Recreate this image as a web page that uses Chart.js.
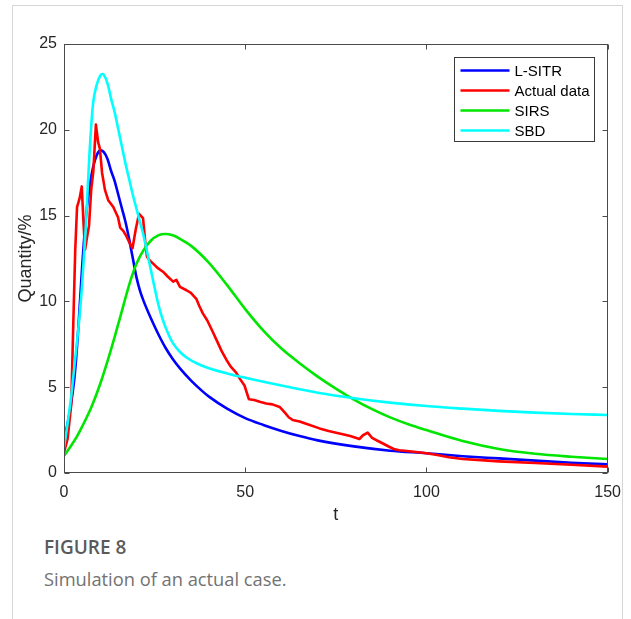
<!DOCTYPE html>
<html><head><meta charset="utf-8">
<script src="https://cdn.jsdelivr.net/npm/chart.js@4"></script>
<style>
html,body{margin:0;padding:0;background:#fff;overflow:hidden;width:631px;height:619px;}
#frame{position:absolute;left:12px;top:5px;width:609px;height:700px;border:1px solid #d6d6d6;border-bottom:none;}
#wrap{position:absolute;left:0;top:0;width:631px;height:530px;}
#cap1{position:absolute;left:44px;top:534px;font-family:"Open Sans",sans-serif;font-weight:600;font-size:19px;color:#5a5a5a;white-space:nowrap;}
#cap2{position:absolute;left:44px;top:566px;font-family:"Open Sans",sans-serif;font-weight:400;font-size:18.3px;color:#727272;white-space:nowrap;}
</style></head>
<body>
<div id="frame"></div>
<div id="wrap"><canvas id="c"></canvas></div>
<div id="cap1">FIGURE 8</div>
<div id="cap2">Simulation of an actual case.</div>
<script>
// ---- data ----
const xTicks = [0, 50, 100, 150];
const yTicks = [0, 5, 10, 15, 20, 25];

const tLSITR = [0,1,2,3,4,5,6,7,8,9,10,11,12,13,14,15,16,17,18,19,20,21,22,24,26,28,30,32,35,38,40,45,50,55,60,65,70,80,90,100,110,120,130,140,150];
const vLSITR = [2.0,2.9,4.1,5.8,8.6,12.0,14.8,16.6,17.8,18.5,18.8,18.7,18.3,17.6,17.0,16.2,15.4,14.6,13.6,12.5,11.4,10.6,10.0,9.0,8.1,7.3,6.65,6.1,5.4,4.8,4.45,3.75,3.2,2.8,2.45,2.15,1.9,1.55,1.3,1.15,0.98,0.85,0.72,0.6,0.5];

const tActual = [0,1,2,2.6,3.1,3.6,4.3,4.9,5.4,5.8,6.4,6.9,7.5,8.1,8.8,9.4,9.9,10.5,11.3,12.2,13.6,14.9,15.5,16.4,17.2,18.1,18.9,19.8,20.7,21.8,22.4,22.9,23.6,24.6,25.8,27.3,28.6,30.1,31,32,33.8,35,36.5,37.3,38.3,39.5,41.1,42.2,43.5,44.8,46,47.5,48.5,49.8,51,52.5,54,55.8,57.5,59.5,61,62,63.1,65,67,70.5,73,76,79,81.5,82.5,83.8,85,86.5,88,89.7,91,92.5,96,100,103,106.2,110,115,120,130,140,150];
const vActual = [1.2,2.0,4.0,9.0,13.0,15.5,16.0,16.7,14.5,13.0,13.8,14.4,16.5,17.6,20.3,19.3,18.9,17.5,16.5,15.9,15.5,14.9,14.3,14.1,13.8,13.4,13.1,14.2,15.1,14.85,13.5,12.6,12.4,12.2,11.95,11.73,11.45,11.15,11.25,10.85,10.65,10.5,10.15,9.75,9.3,8.9,8.2,7.7,7.1,6.6,6.2,5.85,5.5,5.1,4.3,4.25,4.15,4.05,4.0,3.85,3.5,3.25,3.09,3.0,2.85,2.6,2.45,2.3,2.15,1.98,2.2,2.35,2.05,1.88,1.72,1.53,1.4,1.33,1.25,1.15,1.05,0.92,0.82,0.75,0.68,0.58,0.48,0.37];

const tSIRS = [0,2,3.5,5,7.6,10,12.7,15,18.4,20,22,24,26,28,30,32,35,40,45,50,55,60,65,70,75,80,85,90,95,100,110,120,130,140,150];
const vSIRS = [1.0,1.6,2.1,2.7,3.86,5.2,7.0,8.7,11.25,12.2,13.0,13.55,13.85,13.93,13.85,13.65,13.25,12.25,10.95,9.55,8.3,7.25,6.4,5.62,4.92,4.28,3.72,3.24,2.84,2.5,1.86,1.4,1.12,0.95,0.82];

const tSBD = [0,1,2,3,4,5,6,7,8,9,10,10.6,11,12,13,14,15,16,17,18,19,20,21,22,23,24,25,26,27,28,29,30,32,34,37,40,45,50,55,60,65,70,80,90,100,110,120,130,140,150];
const vSBD = [1.5,2.9,4.5,6.5,8.5,11.0,14.3,18.5,21.5,22.6,23.15,23.25,23.2,22.7,21.8,21.0,20.0,19.0,18.0,17.1,16.2,15.4,14.6,13.8,12.8,11.8,10.8,9.85,9.1,8.5,8.0,7.58,7.05,6.7,6.35,6.1,5.8,5.55,5.32,5.1,4.88,4.68,4.36,4.1,3.9,3.75,3.62,3.52,3.44,3.38];

const seriesNames = ['L-SITR', 'Actual data', 'SIRS', 'SBD'];
const seriesColors = ['#0000ff', '#ff0000', '#00e600', '#00ffff'];

// ---- build ----
const toPts = (t, v) => t.map((x, i) => ({x: x, y: v[i]}));
const FONT = '"Liberation Sans", Arial, sans-serif';
const AXIS = '#4a4a4a';

const boxPlugin = {
  id: 'box',
  afterDatasetsDraw(chart) {
    const {ctx, chartArea: a, scales: {x, y}} = chart;
    ctx.save();
    ctx.strokeStyle = AXIS;
    ctx.lineWidth = 1;
    const L = Math.round(a.left) + 0.5, R = Math.round(a.right) - 0.5;
    const T = Math.round(a.top) + 0.5, B = Math.round(a.bottom) - 0.5;
    ctx.strokeRect(L, T, R - L, B - T);
    const tl = 5;
    ctx.beginPath();
    xTicks.forEach(v => {
      const px = Math.round(x.getPixelForValue(v)) + 0.5;
      ctx.moveTo(px, B); ctx.lineTo(px, B - tl);
      ctx.moveTo(px, T); ctx.lineTo(px, T + tl);
    });
    yTicks.forEach(v => {
      const py = Math.round(y.getPixelForValue(v)) + 0.5;
      ctx.moveTo(L, py); ctx.lineTo(L + tl, py);
      ctx.moveTo(R, py); ctx.lineTo(R - tl, py);
    });
    ctx.stroke();
    // legend
    const bw = 140, bh = 84;
    const bx = Math.round(a.right - 14 - bw) + 0.5, by = Math.round(a.top + 13) + 0.5;
    ctx.fillStyle = '#fff';
    ctx.fillRect(bx, by, bw, bh);
    ctx.strokeStyle = '#3a3a3a';
    ctx.strokeRect(bx, by, bw, bh);
    ctx.font = '15px ' + FONT;
    ctx.textBaseline = 'middle';
    ctx.textAlign = 'left';
    chart.data.datasets.forEach((ds, i) => {
      const ry = by + 13 + i * 20;
      ctx.strokeStyle = ds.borderColor;
      ctx.lineWidth = 2.5;
      ctx.beginPath();
      ctx.moveTo(bx + 6, ry); ctx.lineTo(bx + 55, ry);
      ctx.stroke();
      ctx.fillStyle = '#000';
      ctx.fillText(ds.label, bx + 60, ry + 1);
    });
    ctx.restore();
  }
};

const datasets = [
  {data: toPts(tLSITR, vLSITR), order: 3, cubicInterpolationMode: 'monotone'},
  {data: toPts(tActual, vActual), order: 2, tension: 0},
  {data: toPts(tSIRS, vSIRS), order: 1, cubicInterpolationMode: 'monotone'},
  {data: toPts(tSBD, vSBD), order: 0, cubicInterpolationMode: 'monotone'}
].map((d, i) => Object.assign(d, {
  label: seriesNames[i], borderColor: seriesColors[i], backgroundColor: seriesColors[i],
  borderWidth: 2.6, pointRadius: 0, fill: false, borderJoinStyle: 'round', borderCapStyle: 'round'
}));

new Chart(document.getElementById('c'), {
  type: 'line',
  data: {datasets},
  plugins: [boxPlugin],
  options: {
    responsive: true, maintainAspectRatio: false, animation: false,
    layout: {padding: {left: 0, top: 44, right: 22, bottom: 0}},
    plugins: {legend: {display: false}, tooltip: {enabled: false}},
    scales: {
      x: {
        type: 'linear', min: 0, max: 150,
        afterBuildTicks: s => { s.ticks = xTicks.map(v => ({value: v})); },
        afterFit: s => { s.height = 57; },
        grid: {display: false, drawTicks: false}, border: {display: false},
        ticks: {padding: 10, color: '#262626', font: {family: FONT, size: 16}, maxRotation: 0},
        title: {display: true, text: 't', color: '#262626', font: {family: FONT, size: 18}, padding: {top: 0, bottom: 4}}
      },
      y: {
        type: 'linear', min: 0, max: 25,
        afterBuildTicks: s => { s.ticks = yTicks.map(v => ({value: v})); },
        afterFit: s => { s.width = 64; },
        grid: {display: false, drawTicks: false}, border: {display: false},
        ticks: {padding: 7, color: '#262626', font: {family: FONT, size: 16}},
        title: {display: true, text: 'Quantity/%', color: '#262626', font: {family: FONT, size: 18}, padding: {top: 15, bottom: 0}}
      }
    }
  }
});
</script>
</body></html>
